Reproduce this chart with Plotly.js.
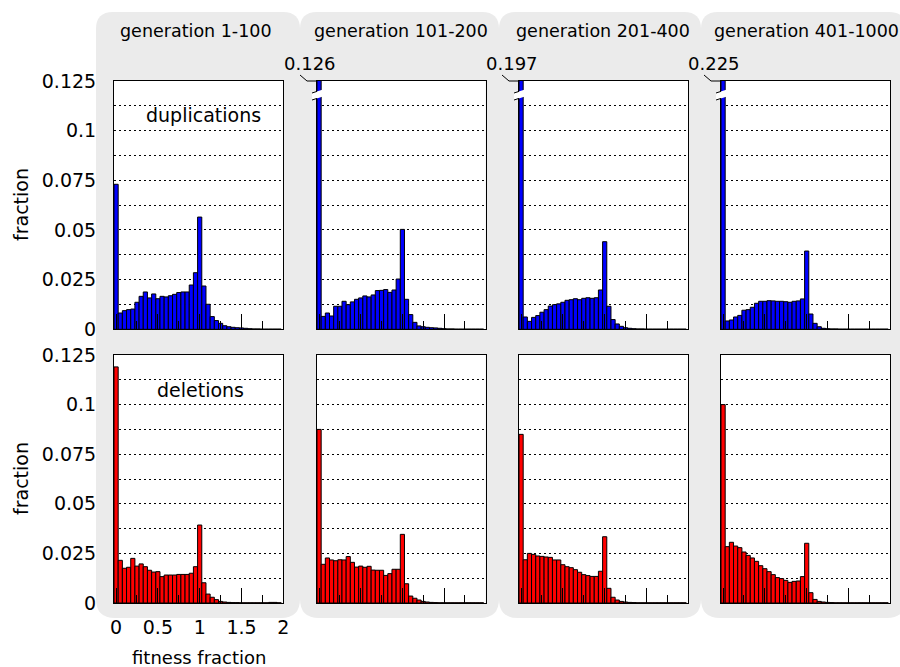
<!DOCTYPE html>
<html>
<head>
<meta charset="utf-8">
<script src="https://cdn.plot.ly/plotly-3.0.1.min.js"></script>
<style>html,body{margin:0;padding:0;background:#fff;}#chart{width:900px;height:667px;}</style>
</head>
<body>
<div id="chart"></div>
<script>
// ---- data ----
const binCenters = [0, 0.05, 0.1, 0.15, 0.2, 0.25, 0.3, 0.35, 0.4, 0.45,
  0.5, 0.55, 0.6, 0.65, 0.7, 0.75, 0.8, 0.85, 0.9, 0.95,
  1.0, 1.05, 1.1, 1.15, 1.2, 1.25, 1.3, 1.35, 1.4, 1.45,
  1.5, 1.55, 1.6, 1.65, 1.7, 1.75, 1.8, 1.85, 1.9, 1.95];

const generations = ["generation 1-100", "generation 101-200", "generation 201-400", "generation 401-1000"];
const rowLabels = ["duplications", "deletions"];

const dupGen1 = [0.0730, 0.0082, 0.0094, 0.0099, 0.0102, 0.0136, 0.0166, 0.0188, 0.0158, 0.0178,
  0.0154, 0.0166, 0.0163, 0.0169, 0.0176, 0.0185, 0.0188, 0.0188, 0.0223, 0.0285,
  0.0565, 0.0218, 0.0126, 0.0064, 0.0044, 0.0030, 0.0018, 0.0013, 0.0010, 0.0008,
  0.0007, 0.0005, 0.0003, 0.0002, 0.0002, 0.0001, 0.0001, 0.0001, 0.0001, 0.0001];
const dupGen2 = [0.126, 0.0065, 0.0082, 0.0067, 0.0116, 0.0116, 0.0141, 0.0124, 0.0138, 0.0151,
  0.0158, 0.0168, 0.0163, 0.0173, 0.0195, 0.0196, 0.0200, 0.0186, 0.0198, 0.0253,
  0.0503, 0.0151, 0.0074, 0.0035, 0.0017, 0.0013, 0.0010, 0.0008, 0.0007, 0.0005,
  0.0003, 0.0002, 0.0002, 0.0001, 0.0001, 0.0001, 0.0001, 0.0001, 0.0001, 0.0001];
const dupGen3 = [0.197, 0.0062, 0.0040, 0.0060, 0.0069, 0.0086, 0.0099, 0.0117, 0.0124, 0.0128,
  0.0136, 0.0146, 0.0149, 0.0154, 0.0149, 0.0156, 0.0159, 0.0156, 0.0159, 0.0198,
  0.0441, 0.0116, 0.0049, 0.0027, 0.0015, 0.0008, 0.0005, 0.0003, 0.0002, 0.0002,
  0.0001, 0.0001, 0.0001, 0.0001, 0.0001, 0.0001, 0.0001, 0.0001, 0.0001, 0.0001];
const dupGen4 = [0.225, 0.0042, 0.0047, 0.0062, 0.0070, 0.0096, 0.0099, 0.0111, 0.0131, 0.0141,
  0.0141, 0.0144, 0.0143, 0.0141, 0.0141, 0.0139, 0.0136, 0.0141, 0.0143, 0.0153,
  0.0394, 0.0077, 0.0030, 0.0013, 0.0005, 0.0003, 0.0002, 0.0002, 0.0001, 0.0001,
  0.0001, 0.0001, 0.0001, 0.0001, 0.0001, 0.0001, 0.0001, 0.0001, 0.0001, 0.0001];

const delGen1 = [0.119, 0.0215, 0.0175, 0.0180, 0.0225, 0.0186, 0.0197, 0.0183, 0.0165, 0.0156,
  0.0158, 0.0133, 0.0141, 0.0141, 0.0141, 0.0144, 0.0144, 0.0144, 0.0150, 0.0183,
  0.0393, 0.0102, 0.0045, 0.0029, 0.0017, 0.0008, 0.0005, 0.0003, 0.0002, 0.0002,
  0.0001, 0.0001, 0.0001, 0.0001, 0.0001, 0.0001, 0.0001, 0.0003, 0.0003, 0.0001];
const delGen2 = [0.0875, 0.0195, 0.0227, 0.0217, 0.0213, 0.0218, 0.0217, 0.0234, 0.0205, 0.0181,
  0.0186, 0.0180, 0.0185, 0.0166, 0.0165, 0.0165, 0.0139, 0.0148, 0.0170, 0.0170,
  0.0346, 0.0097, 0.0035, 0.0024, 0.0015, 0.0008, 0.0005, 0.0003, 0.0002, 0.0001,
  0.0001, 0.0001, 0.0001, 0.0001, 0.0001, 0.0001, 0.0001, 0.0001, 0.0001, 0.0001];
const delGen3 = [0.085, 0.0218, 0.0250, 0.0245, 0.0237, 0.0235, 0.0232, 0.0230, 0.0217, 0.0217,
  0.0193, 0.0183, 0.0178, 0.0168, 0.0155, 0.0143, 0.0138, 0.0134, 0.0134, 0.0160,
  0.0334, 0.0074, 0.0029, 0.0015, 0.0008, 0.0005, 0.0003, 0.0002, 0.0001, 0.0001,
  0.0001, 0.0001, 0.0001, 0.0001, 0.0001, 0.0001, 0.0001, 0.0001, 0.0001, 0.0001];
const delGen4 = [0.100, 0.0284, 0.0306, 0.0287, 0.0279, 0.0257, 0.0240, 0.0227, 0.0210, 0.0188,
  0.0173, 0.0158, 0.0143, 0.0128, 0.0123, 0.0114, 0.0104, 0.0109, 0.0111, 0.0133,
  0.0301, 0.0052, 0.0018, 0.0008, 0.0005, 0.0003, 0.0002, 0.0001, 0.0001, 0.0001,
  0.0001, 0.0001, 0.0001, 0.0001, 0.0001, 0.0001, 0.0001, 0.0001, 0.0001, 0.0001];

const yTickVals = [0, 0.025, 0.05, 0.075, 0.1, 0.125];
const yTickText = ["0", "0.025", "0.05", "0.075", "0.1", "0.125"];
const xTickVals = [0, 0.5, 1, 1.5, 2];
const xTickText = ["0", "0.5", "1", "1.5", "2"];

// ---- layout geometry (pixels) ----
const W = 900, H = 667;
const colL = [114, 317, 519, 721];
const colR = [283.3, 485.7, 688.3, 890.3];
const rowT = [81, 355];
const rowB = [329.3, 603];
const bgCols = [[96, 300], [300, 499], [499, 701], [701, 906]];
const X = p => p / W;
const Y = p => 1 - p / H;
const XR = [-0.025, 2.0];
const YR = [0, 0.125];
const FONT = "DejaVu Sans, Liberation Sans, sans-serif";
const FS = 19;

const dupSeries = [dupGen1, dupGen2, dupGen3, dupGen4];
const delSeries = [delGen1, delGen2, delGen3, delGen4];

const traces = [];
const layout = {
  width: W, height: H,
  margin: {l: 0, r: 0, t: 0, b: 0},
  paper_bgcolor: "#ffffff",
  plot_bgcolor: "rgba(0,0,0,0)",
  showlegend: false,
  bargap: 0,
  font: {family: FONT, size: FS, color: "#000"},
  shapes: [], annotations: []
};

function rounded(l, r, t, b, rt, rb) {
  return "M" + X(l) + "," + Y(t + rt) +
    " Q" + X(l) + "," + Y(t) + " " + X(l + rt) + "," + Y(t) +
    " L" + X(r - rt) + "," + Y(t) +
    " Q" + X(r) + "," + Y(t) + " " + X(r) + "," + Y(t + rt) +
    " L" + X(r) + "," + Y(b - rb) +
    " Q" + X(r) + "," + Y(b) + " " + X(r - rb) + "," + Y(b) +
    " L" + X(l + rb) + "," + Y(b) +
    " Q" + X(l) + "," + Y(b) + " " + X(l) + "," + Y(b - rb) + " Z";
}
// gray column panels
bgCols.forEach(c => {
  layout.shapes.push({type: "path", xref: "paper", yref: "paper", layer: "below",
    path: rounded(c[0], c[1], 12, 618, 17, 19), fillcolor: "#ebebeb", line: {width: 0}});
});
// white plot areas
for (let r = 0; r < 2; r++) for (let c = 0; c < 4; c++) {
  layout.shapes.push({type: "rect", xref: "paper", yref: "paper", layer: "below",
    x0: X(colL[c]), x1: X(colR[c]), y0: Y(rowB[r]), y1: Y(rowT[r]),
    fillcolor: "#ffffff", line: {width: 0}});
}

let k = 0;
for (let r = 0; r < 2; r++) {
  for (let c = 0; c < 4; c++) {
    k++;
    const xa = k === 1 ? "xaxis" : "xaxis" + k;
    const ya = k === 1 ? "yaxis" : "yaxis" + k;
    const xid = k === 1 ? "x" : "x" + k;
    const yid = k === 1 ? "y" : "y" + k;
    const vals = r === 0 ? dupSeries[c] : delSeries[c];
    traces.push({
      type: "bar", x: binCenters, y: vals, width: 0.05,
      xaxis: xid, yaxis: yid,
      marker: {color: r === 0 ? "#0000ff" : "#ff0000", line: {color: "#000000", width: 1}},
      hoverinfo: "x+y"
    });
    layout[xa] = {
      domain: [X(colL[c]), X(colR[c])], anchor: yid, range: XR, fixedrange: true,
      tickvals: xTickVals, ticktext: xTickText,
      showticklabels: (r === 1 && c === 0),
      ticks: "inside", ticklen: 15, tickwidth: 1, tickcolor: "#000",
      minor: {dtick: 0.25, tick0: 0, ticks: "inside", ticklen: 8, tickwidth: 1, tickcolor: "#000", showgrid: false},
      showgrid: false, zeroline: false,
      showline: true, mirror: true, linecolor: "#000", linewidth: 1,
      ticklabelstandoff: 7,
      tickfont: {family: FONT, size: FS, color: "#000"}
    };
    layout[ya] = {
      domain: [Y(rowB[r]), Y(rowT[r])], anchor: xid, range: YR, fixedrange: true,
      tickvals: yTickVals, ticktext: yTickText,
      showticklabels: c === 0,
      ticks: "",
      showgrid: true, gridcolor: "#000", gridwidth: 1, griddash: "2px,3px",
      minor: {dtick: 0.0125, tick0: 0, showgrid: true, gridcolor: "#000", gridwidth: 1, griddash: "2px,3px", ticks: ""},
      zeroline: false,
      showline: true, mirror: true, linecolor: "#000", linewidth: 1,
      ticklabelstandoff: 13,
      tickfont: {family: FONT, size: FS, color: "#000"}
    };
  }
}

// column titles
const titleX = [195.5, 401, 603, 806];
generations.forEach((g, i) => {
  layout.annotations.push({text: g, xref: "paper", yref: "paper", x: X(titleX[i]), y: Y(31),
    showarrow: false, xanchor: "center", yanchor: "middle", font: {family: FONT, size: 17.5, color: "#000"}});
});
// row labels inside first panels
layout.annotations.push({text: rowLabels[0], xref: "paper", yref: "paper", x: X(203), y: Y(115),
  showarrow: false, xanchor: "center", yanchor: "middle", font: {family: FONT, size: FS, color: "#000"}});
layout.annotations.push({text: rowLabels[1], xref: "paper", yref: "paper", x: X(200), y: Y(390),
  showarrow: false, xanchor: "center", yanchor: "middle", font: {family: FONT, size: FS, color: "#000"}});
// axis titles
[205, 479].forEach(yc => {
  layout.annotations.push({text: "fraction", xref: "paper", yref: "paper", x: X(21), y: Y(yc),
    textangle: -90, showarrow: false, xanchor: "center", yanchor: "middle", font: {family: FONT, size: FS, color: "#000"}});
});
layout.annotations.push({text: "fitness fraction", xref: "paper", yref: "paper", x: X(199), y: Y(657),
  showarrow: false, xanchor: "center", yanchor: "middle", font: {family: FONT, size: 18, color: "#000"}});

// clipped first bars: value labels, leader lines and break marks
for (let c = 1; c < 4; c++) {
  const L = colL[c];
  const v = dupSeries[c][0];
  layout.annotations.push({text: v.toFixed(3), xref: "paper", yref: "paper", x: X(L - 7), y: Y(64),
    showarrow: false, xanchor: "center", yanchor: "middle", font: {family: FONT, size: 18, color: "#000"}});
  layout.shapes.push({type: "path", xref: "paper", yref: "paper", layer: "above",
    path: "M" + X(L - 17) + "," + Y(75) + " L" + X(L - 10) + "," + Y(81) + " L" + X(L) + "," + Y(81),
    line: {color: "#000", width: 1}});
  layout.shapes.push({type: "path", xref: "paper", yref: "paper", layer: "above",
    path: "M" + X(L - 5) + "," + Y(93) + " L" + X(L + 6) + "," + Y(89.5) + " L" + X(L + 6) + "," + Y(96.5) +
      " L" + X(L - 5) + "," + Y(100) + " Z",
    fillcolor: "#ffffff", line: {width: 0}});
  layout.shapes.push({type: "line", xref: "paper", yref: "paper", layer: "above",
    x0: X(L - 5), y0: Y(93), x1: X(L), y1: Y(91.4), line: {color: "#000", width: 1}});
  layout.shapes.push({type: "line", xref: "paper", yref: "paper", layer: "above",
    x0: X(L - 5), y0: Y(100), x1: X(L), y1: Y(98.4), line: {color: "#000", width: 1}});
}

Plotly.newPlot("chart", traces, layout, {displayModeBar: false, staticPlot: true});
</script>
</body>
</html>
